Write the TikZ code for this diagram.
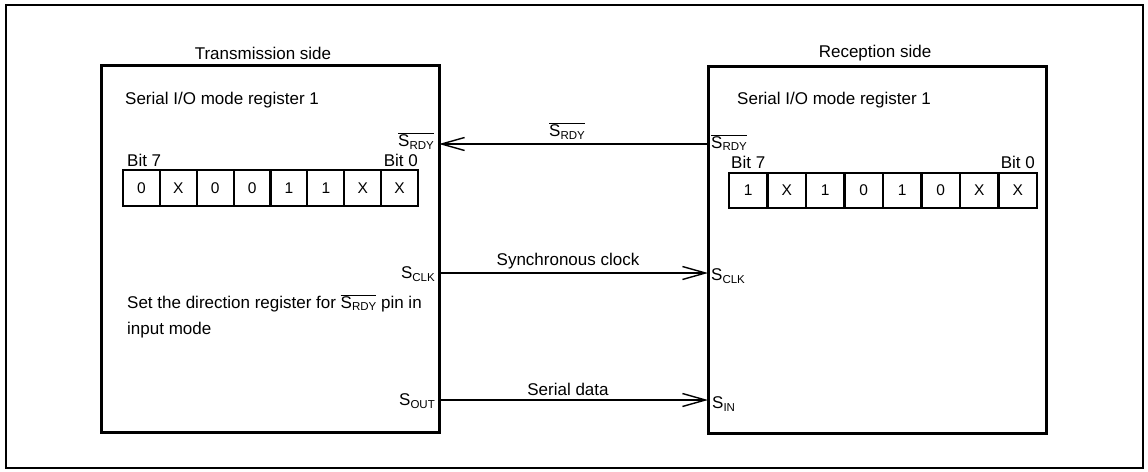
\documentclass[tikz,border=0pt]{standalone}
\usepackage{fontspec}
\setmainfont{Liberation Sans}
\usetikzlibrary{arrows.meta}
\newcommand\sg[1]{S\raisebox{-0.3ex}{\fontsize{11.5}{11.5}\selectfont #1}}
\newcommand\nsg[1]{$\overline{\hbox{\sg{#1}}}$}
\begin{document}
\begin{tikzpicture}[x=1pt,y=-1pt,
  txt/.style={font=\fontsize{17}{20}\selectfont, inner sep=0pt},
  sidebox/.style={draw, line width=3pt, minimum width=338pt, minimum height=367pt, inner sep=0pt},
  cell/.style={draw, line width=2.2pt, inner sep=0pt, font=\fontsize{15.5}{15.5}\selectfont},
  sigarrow/.style={line width=1.4pt, -{Straight Barb[length=23pt,width=13pt]}},
]
\useasboundingbox (0,0) rectangle (1148,471);
% outer frame
\node[draw, line width=2pt, minimum width=1137pt, minimum height=463pt, inner sep=0pt] (frame) at (574.5,236.5) {};
% side boxes
\node[sidebox] (L) at (270,248.5) {};
\node[sidebox] (R) at (877,249.5) {};
\node[txt] (Lt) at (263,53) {Transmission side};
\node[txt] (Rt) at (875,53) {Reception side};
\node[txt, anchor=west] (Lreg) at (125,100) {Serial I/O mode register 1};
\node[txt, anchor=west] (Rreg) at (737,100) {Serial I/O mode register 1};
% bit labels
\node[txt, anchor=west] (Lb7) at (127,160) {Bit 7};
\node[txt, anchor=east] (Lb0) at (418,160) {Bit 0};
\node[txt, anchor=west] (Rb7) at (731,162.5) {Bit 7};
\node[txt, anchor=east] (Rb0) at (1035,162.5) {Bit 0};
% register cells
\foreach \v [count=\i] in {0,X,0,0,1,1,X,X}
  \node[cell, minimum width=36.9pt, minimum height=36pt] (lc\i) at ({123+36.875*(\i-0.5)},188) {\v};
\foreach \v [count=\i] in {1,X,1,0,1,0,X,X}
  \node[cell, minimum width=38.5pt, minimum height=35pt] (rc\i) at ({729+38.5*(\i-0.5)},190.5) {\v};
% pin coordinates
\coordinate (rdyR) at (708,144);
\coordinate (rdyL) at (439,144);
\coordinate (clkL) at (439,273);
\coordinate (clkR) at (708,273);
\coordinate (outL) at (439,400);
\coordinate (inR) at (708,400);
% connectors
\draw[sigarrow] (rdyR) -- (rdyL);
\draw[sigarrow] (clkL) -- (clkR);
\draw[sigarrow] (outL) -- (inR);
% connector labels
\node[txt] (rdyLab) at (567,131) {\nsg{RDY}};
\node[txt] (clkLab) at (568,261) {Synchronous clock};
\node[txt] (datLab) at (568,389) {Serial data};
% pin labels
\node[txt, anchor=east] (pLrdy) at (434,141) {\nsg{RDY}};
\node[txt, anchor=west] (pRrdy) at (711,142.5) {\nsg{RDY}};
\node[txt, anchor=east] (pLclk) at (435,274) {\sg{CLK}};
\node[txt, anchor=west] (pRclk) at (711,276) {\sg{CLK}};
\node[txt, anchor=east] (pLout) at (435,401) {\sg{OUT}};
\node[txt, anchor=west] (pRin) at (712,404) {\sg{IN}};
% note
\node[txt, anchor=west] (note1) at (127,303) {Set the direction register for \nsg{RDY} pin in};
\node[txt, anchor=west] (note2) at (127,330) {input mode};
\end{tikzpicture}
\end{document}
